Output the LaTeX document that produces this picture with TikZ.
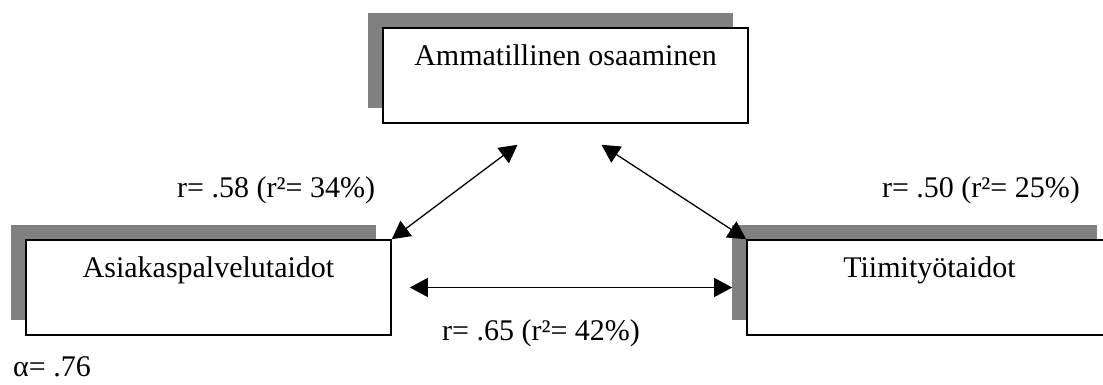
\documentclass[tikz,border=0pt]{standalone}
\usepackage{fontspec}
\setmainfont{Liberation Serif}
\usetikzlibrary{arrows.meta,positioning,calc,shadows}

\tikzset{
  factor/.style={draw, line width=1.6pt, fill=white, minimum width=365pt,
    inner ysep=0pt, text height=38pt, text depth=57pt,
    drop shadow={shadow xshift=-15pt, shadow yshift=15pt, fill=gray, opacity=1}},
  corrarrow/.style={{Triangle[length=18pt,width=19pt]}-{Triangle[length=18pt,width=19pt]}, line width=1.3pt},
  corr/.style={inner sep=0pt},
}

\begin{document}
\begin{tikzpicture}[x=1pt, y=1pt, font=\fontsize{30}{36}\selectfont]
    \path[use as bounding box, clip] (0,0) rectangle (1103,385);

    % Factors
    \node[factor] (amm) at (565.5, 309.5) {Ammatillinen osaaminen};
    \node[factor] (asiakas) at (208.5, 97.5) {Asiakaspalvelutaidot};
    \node[factor] (tiimi) at (929.5, 97.5) {Tiimityötaidot};

    % Free ends under the top box
    \coordinate (ammL) at ([shift={(-48,-21)}]amm.south);
    \coordinate (ammR) at ([shift={(36,-21)}]amm.south);

    % Arrows
    \draw[corrarrow] (asiakas.north east) -- (ammL);
    \draw[corrarrow] (tiimi.north west) -- (ammR);
    \draw[corrarrow, shorten <=18pt, shorten >=14pt] (asiakas.east) -- (tiimi.west);

    % Correlations
    \node[corr, anchor=base west] (r1) at (177, 187.5) {r= .58 (r²= 34\%)};
    \node[corr, anchor=base east] (r2) at (1080, 187.5) {r= .50 (r²= 25\%)};
    \node[corr, anchor=base] (r3) at (541, 44) {r= .65 (r²= 42\%)};
    \node[corr, anchor=base west] (alpha) at (13, 8) {α= .76};
\end{tikzpicture}
\end{document}
